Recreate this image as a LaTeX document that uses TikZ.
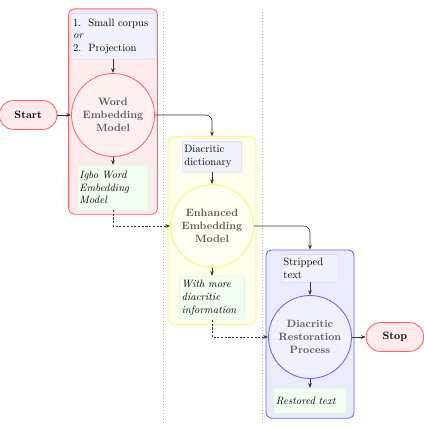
\documentclass[tikz,border=0pt]{standalone}
\usetikzlibrary{positioning,arrows.meta,fit,backgrounds}

\begin{document}
\begin{tikzpicture}[
  x=0.94pt, y=0.94pt,
  box/.style={draw, rounded corners=1pt, align=left, text width=#1, inner sep=2pt},
  box/.default=50pt,
  inbox/.style={box=#1, draw=blue!20, fill=blue!5},
  outbox/.style={box=#1, draw=green!20, fill=green!5, font=\itshape},
  stage/.style={circle, draw=#1!60, fill=#1!6, line width=0.8pt, minimum size=78pt, inner sep=0pt, align=center, font=\bfseries, text=black!65},
  group/.style={draw=#1!60, fill=#1!8, rounded corners=5pt, line width=0.8pt, inner xsep=2pt, inner ysep=4pt},
  term/.style={draw=red!60, fill=red!8, rounded corners=13pt, line width=0.8pt, minimum width=54pt, minimum height=27pt, font=\bfseries},
  arr/.style={-{Stealth[length=1.6mm]}, semithick, black!80},
  dots/.style={arr, dash pattern=on 2pt off 1.5pt},
  sep/.style={gray!60, line width=0.9pt, dotted}]
\useasboundingbox (0,0) rectangle (423,-429);
% --- separators between the three stages
\draw[sep] (163,-12) -- (163,-423);
\draw[sep] (262,-12) -- (262,-423);
% --- stage 1: word embedding
\node[stage=red] (wem) at (113,-115) {Word\\Embedding\\Model};
\node[inbox=75pt, minimum height=43pt, above=13pt of wem] (corpus) {1.~~Small corpus\\\textit{or}\\2.~~Projection};
\node[outbox=63pt, minimum height=42pt, below=7.5pt of wem] (igbo) {Igbo Word\\Embedding\\Model};
\node[term, left=13pt of wem] (start) {Start};
% --- stage 2: enhanced embedding
\node[stage=yellow] (eem) at (212,-226) {Enhanced\\Embedding\\Model};
\node[inbox=52pt, minimum height=29pt, above=11pt of eem] (dict) {Diacritic\\dictionary};
\node[outbox=57pt, minimum height=41pt, below=7.5pt of eem] (info) {With more\\diacritic\\information};
% --- stage 3: restoration
\node[stage=blue] (drp) at (310,-337) {Diacritic\\Restoration\\Process};
\node[inbox=50pt, minimum height=26pt, above=12pt of drp] (strip) {Stripped\\text};
\node[outbox=64pt, minimum height=24pt, below=8.5pt of drp] (restored) {Restored text};
\node[term, right=13pt of drp] (stop) {Stop};
% --- stage frames
\begin{scope}[on background layer]
\node[group=red, fit=(corpus)(wem)(igbo)] (rbox) {};
\node[group=yellow, fit=(dict)(eem)(info)] (ybox) {};
\node[group=blue, fit=(strip)(drp)(restored)] (bbox) {};
\end{scope}
\draw[arr] (start) -- (wem);
\draw[arr] (corpus) -- (wem);
\draw[arr] (wem) -- (igbo);
\draw[arr, rounded corners=6pt] (wem.east) -| (ybox.north);
\draw[dots] (igbo.south) |- (eem.west);
\draw[arr] (dict) -- (eem);
\draw[arr] (eem) -- (info);
\draw[arr, rounded corners=6pt] (eem.east) -| (bbox.north);
\draw[dots] (info.south) |- (drp.west);
\draw[arr] (strip) -- (drp);
\draw[arr] (drp) -- (restored);
\draw[arr] (drp) -- (stop);
\end{tikzpicture}
\end{document}
